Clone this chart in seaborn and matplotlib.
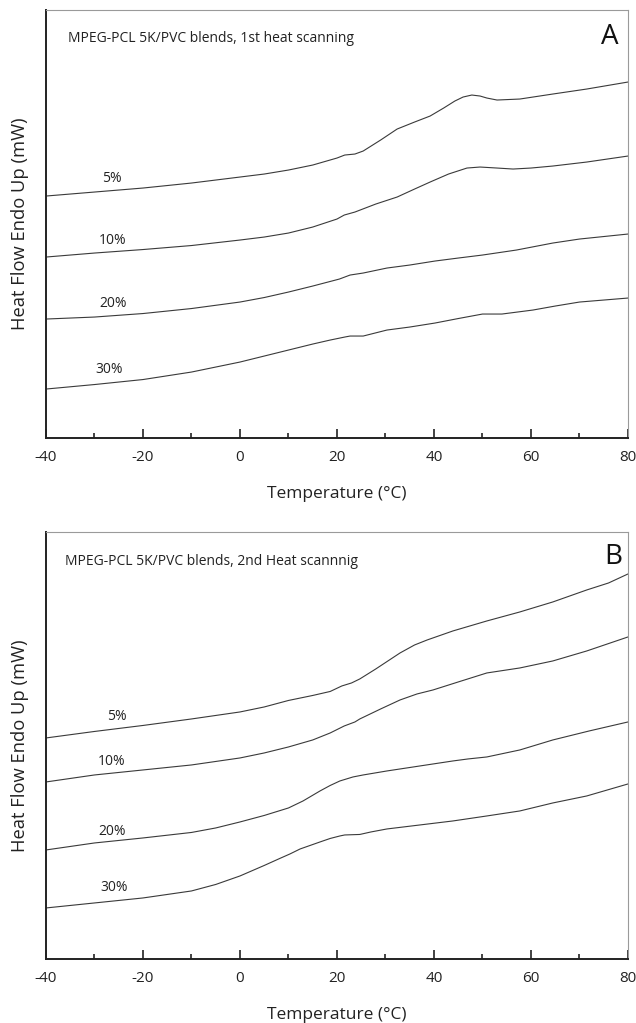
import matplotlib
matplotlib.use("Agg")
import matplotlib.pyplot as plt
from matplotlib.ticker import MultipleLocator
import numpy as np
import pandas as pd
import seaborn as sns

# ---- DSC traces, 1st heating (panel A) ----
a_5_t = [-40, -30, -20, -10, 0, 5, 10, 15, 20, 21.6, 23.7, 25.4, 29, 32.4, 36, 39.2, 42, 44.3, 46, 47.8, 49.5, 50.9, 53, 57.7, 64.5, 71.5, 80]
a_5_q = [24.2, 24.6, 25.0, 25.5, 26.1, 26.4, 26.8, 27.3, 28.0, 28.3, 28.4, 28.7, 29.8, 30.9, 31.6, 32.2, 33.0, 33.7, 34.1, 34.3, 34.2, 34.0, 33.8, 33.9, 34.4, 34.9, 35.6]

a_10_t = [-40, -30, -20, -10, 0, 5, 10, 15, 20, 21.5, 23.7, 28, 32.4, 36, 39.2, 43, 46.8, 49.5, 53, 56.3, 60, 64.5, 71.5, 80]
a_10_q = [18.1, 18.5, 18.85, 19.25, 19.8, 20.1, 20.5, 21.1, 21.9, 22.3, 22.6, 23.4, 24.1, 24.9, 25.6, 26.4, 27.0, 27.1, 27.0, 26.9, 27.0, 27.2, 27.6, 28.2]

a_20_t = [-40, -30, -20, -10, 0, 5, 10, 15, 20.5, 22.7, 25.4, 30.3, 35, 40.2, 45, 50, 57, 64.5, 70, 80]
a_20_q = [11.9, 12.1, 12.45, 12.95, 13.6, 14.05, 14.6, 15.2, 15.9, 16.3, 16.5, 17.0, 17.3, 17.7, 18.0, 18.3, 18.8, 19.5, 19.9, 20.4]

a_30_t = [-40, -30, -20, -10, 0, 5, 10, 15, 18.6, 21.6, 22.7, 25.4, 30.3, 35, 40.2, 45, 50, 54, 60.4, 65, 70, 80]
a_30_q = [4.9, 5.35, 5.85, 6.6, 7.6, 8.2, 8.8, 9.4, 9.8, 10.1, 10.2, 10.2, 10.8, 11.1, 11.5, 11.95, 12.4, 12.4, 12.8, 13.2, 13.6, 14.0]

# ---- DSC traces, 2nd heating (panel B) ----
b_5_t = [-40, -30, -20, -10, 0, 5, 10, 15, 18.6, 21, 23, 24.7, 28, 33, 36, 38.6, 43.9, 50.9, 57.7, 64.5, 71.5, 76, 80]
b_5_q = [22.1, 22.75, 23.35, 24.0, 24.7, 25.2, 25.85, 26.35, 26.75, 27.3, 27.6, 28.0, 29.0, 30.6, 31.4, 31.9, 32.8, 33.8, 34.7, 35.7, 36.9, 37.6, 38.5]

b_10_t = [-40, -30, -20, -10, 0, 5, 10, 15, 18.6, 21.5, 23.7, 24.7, 29, 33, 36.5, 39.8, 45, 50.9, 57.7, 64.5, 71.5, 80]
b_10_q = [17.7, 18.4, 18.9, 19.4, 20.1, 20.6, 21.2, 21.9, 22.6, 23.3, 23.7, 24.0, 25.0, 25.9, 26.5, 26.9, 27.7, 28.6, 29.1, 29.8, 30.8, 32.2]

b_20_t = [-40, -30, -20, -10, -5, 0, 5, 10, 13, 16.5, 18.6, 20.6, 23.3, 25.4, 30.3, 37.1, 43.9, 47, 50.9, 57.7, 64.5, 72, 80]
b_20_q = [10.9, 11.6, 12.1, 12.65, 13.1, 13.7, 14.35, 15.1, 15.8, 16.8, 17.35, 17.8, 18.2, 18.4, 18.8, 19.3, 19.8, 20.0, 20.2, 20.9, 21.9, 22.8, 23.7]

b_30_t = [-40, -30, -20, -10, -5, 0, 5, 8.2, 10.3, 12.4, 16.5, 18.6, 20.6, 21.6, 24.7, 27, 30.3, 37.1, 43.9, 50.9, 57.7, 64.5, 71.5, 80]
b_30_q = [5.1, 5.6, 6.1, 6.8, 7.45, 8.3, 9.35, 10.05, 10.5, 11.0, 11.7, 12.05, 12.3, 12.4, 12.45, 12.7, 13.0, 13.4, 13.8, 14.3, 14.8, 15.6, 16.3, 17.5]

blend_labels = ["5%", "10%", "20%", "30%"]
panel_letters = ["A", "B"]
panel_titles = ["MPEG-PCL 5K/PVC blends, 1st heat scanning",
                "MPEG-PCL 5K/PVC blends, 2nd Heat scannnig"]

# label anchors (temperature, heat flow) next to each trace
a_label_t = [-26.4, -26.2, -26.2, -27.0]
a_label_q = [26.0, 19.8, 13.5, 6.9]
b_label_t = [-25.4, -26.4, -26.4, -26.0]
b_label_q = [24.2, 19.7, 12.7, 7.1]

x_ticks = [-40, -20, 0, 20, 40, 60, 80]


def long_frame(series):
    rows = []
    for lab, (t, q) in zip(blend_labels, series):
        rows.append(pd.DataFrame({"Temperature": t, "HeatFlow": q, "blend": lab}))
    return pd.concat(rows, ignore_index=True)


panels = [
    (long_frame([(a_5_t, a_5_q), (a_10_t, a_10_q), (a_20_t, a_20_q), (a_30_t, a_30_q)]),
     a_label_t, a_label_q),
    (long_frame([(b_5_t, b_5_q), (b_10_t, b_10_q), (b_20_t, b_20_q), (b_30_t, b_30_q)]),
     b_label_t, b_label_q),
]

sns.set_theme(style="white")
plt.rcParams["font.family"] = ["Open Sans", "DejaVu Sans"]
plt.rcParams["axes.unicode_minus"] = False

fig = plt.figure(figsize=(6.36, 10.23), dpi=100)
ax_rects = [[0.0723, 0.5718, 0.9151, 0.4184],
            [0.0723, 0.0626, 0.9151, 0.4174]]
title_pos = [(0.0378, 0.9346), (0.0326, 0.9297)]
letter_pos = [(0.969, 0.937), (0.974, 0.941)]

for i, (df, lt, lq) in enumerate(panels):
    ax = fig.add_axes(ax_rects[i])
    sns.lineplot(data=df, x="Temperature", y="HeatFlow", hue="blend",
                 palette=["#3a3a3a"] * 4, linewidth=0.8, legend=False,
                 sort=False, estimator=None, ax=ax)
    ax.set_xlim(-40, 80)
    ax.set_ylim(0, 42.8 if i == 0 else 42.7)
    ax.set_xticks(x_ticks)
    ax.xaxis.set_minor_locator(MultipleLocator(10))
    ax.set_yticks([])
    ax.tick_params(axis="x", which="major", direction="in", length=6.5,
                   width=1.2, color="#222222", labelsize=11, pad=8.5,
                   labelcolor="#222222", bottom=True)
    ax.tick_params(axis="x", which="minor", direction="in", length=3.6,
                   width=1.2, color="#222222", bottom=True)
    for side in ("left", "bottom"):
        ax.spines[side].set_color("#222222")
        ax.spines[side].set_linewidth(1.4)
    for side in ("top", "right"):
        ax.spines[side].set_color("#9a9a9a")
        ax.spines[side].set_linewidth(0.8)
    ax.set_xlabel("Temperature (\u00b0C)", fontsize=12.5, color="#222222", labelpad=15)
    ax.set_ylabel("Heat Flow Endo Up (mW)", fontsize=13.2, color="#222222", labelpad=12)
    for lab, tx, qy in zip(blend_labels, lt, lq):
        ax.text(tx, qy, lab, ha="center", va="center", fontsize=10, color="#222222")
    ax.text(*title_pos[i], panel_titles[i], transform=ax.transAxes,
            ha="left", va="center", fontsize=10, color="#222222")
    ax.text(*letter_pos[i], panel_letters[i], transform=ax.transAxes,
            ha="center", va="center", fontsize=20, color="#111111")

fig.savefig("out.png", dpi=100)
